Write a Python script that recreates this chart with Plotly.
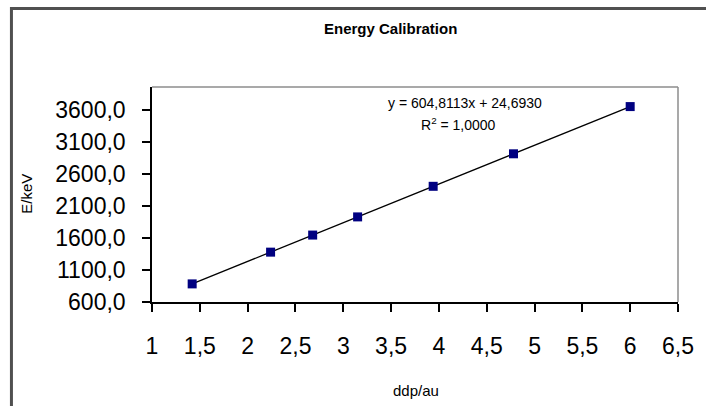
import plotly.graph_objects as go

# Calibration points: detector reading (ddp, arbitrary units) vs gamma energy (keV)
ddp_au = [1.42, 2.24, 2.68, 3.15, 3.94, 4.78, 6.00]
energy_kev = [883, 1379, 1646, 1930, 2408, 2916, 3654]

# Linear trendline coefficients and goodness of fit
slope = 604.8113
intercept = 24.6930
r_squared = 1.0000

# Axis ticks (decimal comma)
x_ticks = [1, 1.5, 2, 2.5, 3, 3.5, 4, 4.5, 5, 5.5, 6, 6.5]
x_tick_labels = ["1", "1,5", "2", "2,5", "3", "3,5", "4", "4,5", "5", "5,5", "6", "6,5"]
y_ticks = [600, 1100, 1600, 2100, 2600, 3100, 3600]
y_tick_labels = ["600,0", "1100,0", "1600,0", "2100,0", "2600,0", "3100,0", "3600,0"]

W, H = 706, 406
ML, MR, MT, MB = 152, 17, 87, 104
PW, PH = W - ML - MR, H - MT - MB


def px(x):
    """Pixel column -> paper x."""
    return (x - ML) / PW


def py(y):
    """Pixel row -> paper y."""
    return 1 - (y - MT) / PH


def comma(v):
    return f"{v:.4f}".replace(".", ",")


FONT = "Arial, Liberation Sans, sans-serif"

trend_x = [min(ddp_au), max(ddp_au)]
trend_y = [slope * x + intercept for x in trend_x]

fig = go.Figure()
fig.add_trace(go.Scatter(
    x=trend_x, y=trend_y, mode="lines",
    line=dict(color="black", width=1.3),
    hoverinfo="skip", showlegend=False,
))
fig.add_trace(go.Scatter(
    x=ddp_au, y=energy_kev, mode="markers",
    marker=dict(symbol="square", size=9, color="#000080"),
    showlegend=False,
))

fig.update_layout(
    width=W, height=H,
    margin=dict(l=ML, r=MR, t=MT, b=MB, pad=0),
    paper_bgcolor="white", plot_bgcolor="white",
    font=dict(family=FONT, color="black"),
    xaxis=dict(
        range=[1, 6.5], tickvals=x_ticks, ticktext=x_tick_labels,
        showgrid=False, zeroline=False,
        showline=True, linecolor="black", linewidth=1.5,
        ticks="outside", ticklen=8, tickwidth=1.5, tickcolor="black",
        tickfont=dict(size=23), ticklabelstandoff=15,
        mirror=False,
    ),
    yaxis=dict(
        range=[600, 3960], tickvals=y_ticks, ticktext=y_tick_labels,
        showgrid=False, zeroline=False,
        showline=True, linecolor="black", linewidth=1.5,
        ticks="outside", ticklen=8, tickwidth=1.5, tickcolor="black",
        tickfont=dict(size=23), ticklabelstandoff=12,
    ),
    shapes=[
        # grey border on top and right of the plot area
        dict(type="line", xref="paper", yref="paper", x0=0, x1=1, y0=1, y1=1,
             line=dict(color="#8c8c8c", width=1.5)),
        dict(type="line", xref="paper", yref="paper", x0=1, x1=1, y0=0, y1=1,
             line=dict(color="#8c8c8c", width=1.5)),
        # chart frame
        dict(type="rect", xref="paper", yref="paper",
             x0=px(8.5), x1=px(W + 20), y0=py(8.5), y1=py(H + 20),
             line=dict(color="#505050", width=3)),
    ],
    annotations=[
        dict(text="<b>Energy Calibration</b>", xref="paper", yref="paper",
             x=px(395), y=py(28), showarrow=False, font=dict(size=15),
             xanchor="center", yanchor="middle"),
        dict(text=f"y = {comma(slope)}x + {comma(intercept)}", xref="paper", yref="paper",
             x=px(472), y=py(103), showarrow=False, font=dict(size=14),
             xanchor="center", yanchor="middle"),
        dict(text=f"R<sup>2</sup> = {comma(r_squared)}", xref="paper", yref="paper",
             x=px(465), y=py(124), showarrow=False, font=dict(size=14),
             xanchor="center", yanchor="middle"),
        dict(text="E/keV", xref="paper", yref="paper",
             x=px(23), y=py(194), showarrow=False, font=dict(size=15),
             textangle=-90, xanchor="center", yanchor="middle"),
        dict(text="ddp/au", xref="paper", yref="paper",
             x=px(422), y=py(390), showarrow=False, font=dict(size=15),
             xanchor="center", yanchor="middle"),
    ],
)

fig.write_html("out.html")
